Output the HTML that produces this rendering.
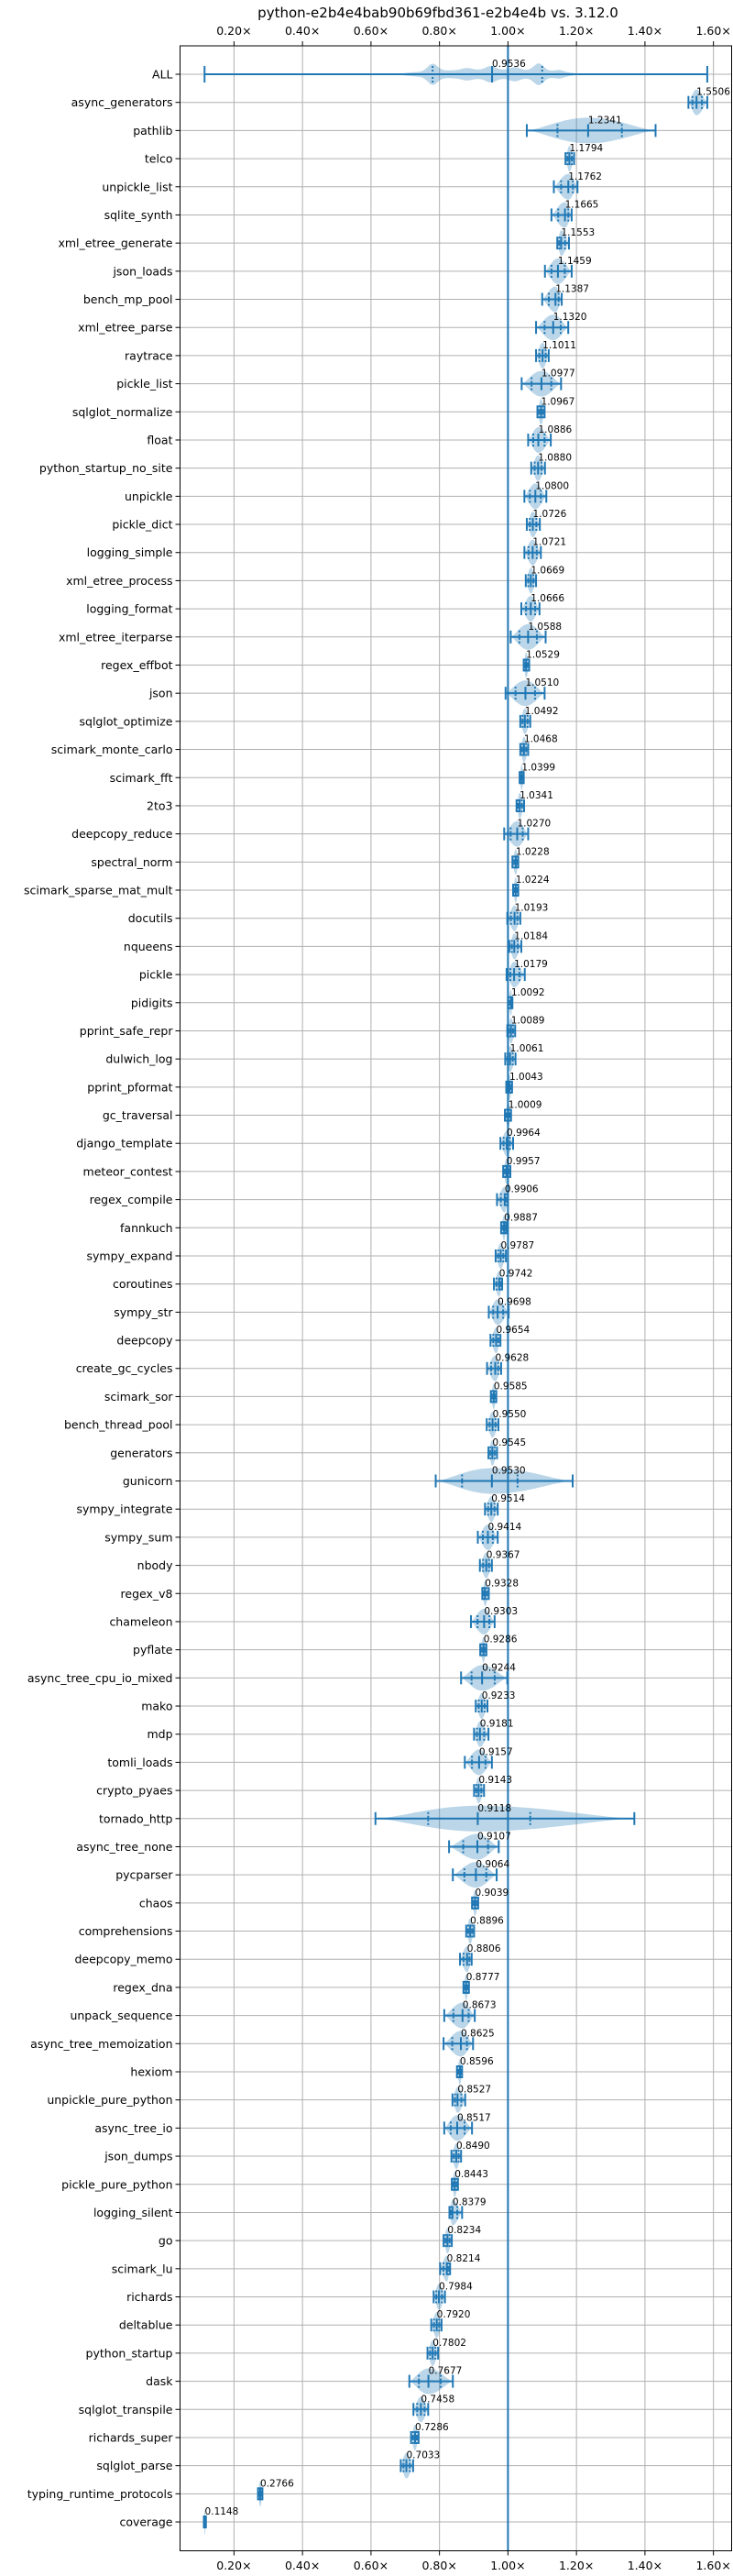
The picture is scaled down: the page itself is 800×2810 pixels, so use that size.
<!DOCTYPE html>
<html><head><meta charset="utf-8">
<style>
html,body{margin:0;padding:0;background:#fff;}
svg{display:block;font-family:"DejaVu Sans","Liberation Sans",sans-serif;}
</style></head>
<body>
<svg id="chart" width="800" height="2810" viewBox="0 0 800 2810" xmlns="http://www.w3.org/2000/svg">
<rect x="0" y="0" width="800" height="2810" fill="#fff"/>
<text x="478" y="19" font-size="15" text-anchor="middle" fill="#000">python-e2b4e4bab90b69fbd361-e2b4e4b vs. 3.12.0</text>
<g id="grid"></g>
<g id="violins"></g>
<g id="marks"></g>
<g id="labels"></g>
<g id="axes"></g>
</svg>
<script>
const benchmarks = ["ALL","async_generators","pathlib","telco","unpickle_list","sqlite_synth","xml_etree_generate","json_loads","bench_mp_pool","xml_etree_parse","raytrace","pickle_list","sqlglot_normalize","float","python_startup_no_site","unpickle","pickle_dict","logging_simple","xml_etree_process","logging_format","xml_etree_iterparse","regex_effbot","json","sqlglot_optimize","scimark_monte_carlo","scimark_fft","2to3","deepcopy_reduce","spectral_norm","scimark_sparse_mat_mult","docutils","nqueens","pickle","pidigits","pprint_safe_repr","dulwich_log","pprint_pformat","gc_traversal","django_template","meteor_contest","regex_compile","fannkuch","sympy_expand","coroutines","sympy_str","deepcopy","create_gc_cycles","scimark_sor","bench_thread_pool","generators","gunicorn","sympy_integrate","sympy_sum","nbody","regex_v8","chameleon","pyflate","async_tree_cpu_io_mixed","mako","mdp","tomli_loads","crypto_pyaes","tornado_http","async_tree_none","pycparser","chaos","comprehensions","deepcopy_memo","regex_dna","unpack_sequence","async_tree_memoization","hexiom","unpickle_pure_python","async_tree_io","json_dumps","pickle_pure_python","logging_silent","go","scimark_lu","richards","deltablue","python_startup","dask","sqlglot_transpile","richards_super","sqlglot_parse","typing_runtime_protocols","coverage"];
const medians = [0.9536,1.5506,1.2341,1.1794,1.1762,1.1665,1.1553,1.1459,1.1387,1.1320,1.1011,1.0977,1.0967,1.0886,1.0880,1.0800,1.0726,1.0721,1.0669,1.0666,1.0588,1.0529,1.0510,1.0492,1.0468,1.0399,1.0341,1.0270,1.0228,1.0224,1.0193,1.0184,1.0179,1.0092,1.0089,1.0061,1.0043,1.0009,0.9964,0.9957,0.9906,0.9887,0.9787,0.9742,0.9698,0.9654,0.9628,0.9585,0.9550,0.9545,0.9530,0.9514,0.9414,0.9367,0.9328,0.9303,0.9286,0.9244,0.9233,0.9181,0.9157,0.9143,0.9118,0.9107,0.9064,0.9039,0.8896,0.8806,0.8777,0.8673,0.8625,0.8596,0.8527,0.8517,0.8490,0.8443,0.8379,0.8234,0.8214,0.7984,0.7920,0.7802,0.7677,0.7458,0.7286,0.7033,0.2766,0.1148];
const mins = [0.114,1.527,1.055,1.168,1.134,1.127,1.144,1.108,1.100,1.082,1.082,1.040,1.086,1.059,1.068,1.048,1.055,1.048,1.052,1.039,1.008,1.046,0.993,1.036,1.036,1.034,1.025,0.989,1.013,1.015,0.998,1.004,0.996,1.000,0.998,0.992,0.995,0.991,0.978,0.986,0.968,0.980,0.964,0.959,0.944,0.949,0.939,0.950,0.938,0.943,0.789,0.933,0.912,0.918,0.925,0.892,0.919,0.863,0.906,0.901,0.874,0.901,0.613,0.828,0.839,0.895,0.878,0.860,0.870,0.814,0.812,0.851,0.838,0.814,0.835,0.836,0.829,0.812,0.802,0.783,0.776,0.765,0.712,0.724,0.717,0.687,0.270,0.112];
const maxs = [1.582,1.582,1.431,1.193,1.203,1.186,1.178,1.186,1.157,1.176,1.119,1.155,1.107,1.125,1.108,1.112,1.093,1.096,1.082,1.092,1.110,1.062,1.107,1.065,1.059,1.046,1.047,1.059,1.030,1.030,1.036,1.039,1.049,1.013,1.021,1.022,1.012,1.009,1.015,1.007,1.000,0.995,0.994,0.983,1.002,0.978,0.980,0.966,0.972,0.968,1.189,0.970,0.970,0.953,0.944,0.961,0.937,0.998,0.940,0.943,0.953,0.930,1.369,0.973,0.967,0.913,0.901,0.894,0.886,0.903,0.898,0.866,0.875,0.895,0.863,0.854,0.866,0.836,0.831,0.816,0.806,0.796,0.839,0.767,0.739,0.723,0.283,0.118];
const quartileOverrides = {0:[0.78,1.10], 50:[0.866,1.028], 62:[0.767,1.065]};
const xTicks = [0.2,0.4,0.6,0.8,1.0,1.2,1.4,1.6];
const xTickLabels = ["0.20×","0.40×","0.60×","0.80×","1.00×","1.20×","1.40×","1.60×"];
const allViolinBumps = [[0.78,8],[0.95,4],[1.09,8],[0.88,2],[1.02,3],[1.15,2]];

const NS="http://www.w3.org/2000/svg";
const L=196.5,R=798.5,T=50,B=2782.5;
function xs(v){return 554.4+(v-1)*373.75;}
function ys(i){return 81+i*30.69;}
function mk(tag,attrs,parent){const e=document.createElementNS(NS,tag);for(const k in attrs)e.setAttribute(k,attrs[k]);parent.appendChild(e);return e;}
const grid=document.getElementById('grid'),vio=document.getElementById('violins'),marks=document.getElementById('marks'),labs=document.getElementById('labels'),axes=document.getElementById('axes');
const BLUE="#1f77b4";

xTicks.forEach((t,k)=>{
  const g=mk('line',{x1:xs(t),x2:xs(t),y1:T,y2:B,stroke:"#b0b0b0","stroke-width":1},grid);
  
  
  const tt=mk('line',{x1:xs(t),x2:xs(t),y1:T-5,y2:T,stroke:"#000","stroke-width":1},axes);
  
  
  const tb=mk('line',{x1:xs(t),x2:xs(t),y1:B,y2:B+5,stroke:"#000","stroke-width":1},axes);
  
  
  const l1=mk('text',{x:xs(t),y:38,"font-size":12.5,"text-anchor":"middle",fill:"#000"},axes);l1.textContent=xTickLabels[k];
  
  
  const l2=mk('text',{x:xs(t),y:2803,"font-size":12.5,"text-anchor":"middle",fill:"#000"},axes);l2.textContent=xTickLabels[k];
  
  
});
benchmarks.forEach((b,i)=>{
  const y=ys(i);
  const g=mk('line',{x1:L,x2:R,y1:y,y2:y,stroke:"#b0b0b0","stroke-width":1},grid);
  
  
  const tk=mk('line',{x1:L-5,x2:L,y1:y,y2:y,stroke:"#000","stroke-width":1},axes);
  
  
  const tl=mk('text',{x:L-8,y:y+4.5,"font-size":12.5,"text-anchor":"end",fill:"#000"},axes);tl.textContent=b;
  
  
});

const H=14;
benchmarks.forEach((b,i)=>{
  const y=ys(i),mn=mins[i],mx=maxs[i],md=medians[i];
  let d="";
  if(i===0){
    const lo=0.66,hi=1.23,N=150;const top=[],bot=[];
    for(let k=0;k<=N;k++){const v=lo+(hi-lo)*k/N;
      const t=(v-lo)/(hi-lo);
      let base=5*Math.pow(Math.sin(Math.PI*Math.min(Math.max((v-0.68)/0.53,0),1)),0.6);
      let h=base;allViolinBumps.forEach(([c,a])=>{h+=a*Math.exp(-Math.pow((v-c)/0.02,2));});
      h=Math.min(h,13);top.push([xs(v),y-h]);bot.push([xs(v),y+h]);}
    d="M"+top.map(p=>p[0].toFixed(1)+","+p[1].toFixed(1)).join(" L")+" L"+bot.reverse().map(p=>p[0].toFixed(1)+","+p[1].toFixed(1)).join(" L")+"Z";
  } else {
    const N=40;const top=[],bot=[];
    for(let k=0;k<=N;k++){const v=mn+(mx-mn)*k/N;let u=v<md?(md-v)/Math.max(md-mn,1e-6):(v-md)/Math.max(mx-md,1e-6);u=Math.min(u,1);
      const h=H*Math.pow(1-u*u,1.6);top.push([xs(v),y-h]);bot.push([xs(v),y+h]);}
    d="M"+top.map(p=>p[0].toFixed(1)+","+p[1].toFixed(1)).join(" L")+" L"+bot.reverse().map(p=>p[0].toFixed(1)+","+p[1].toFixed(1)).join(" L")+"Z";
  }
  const p=mk('path',{d:d,fill:BLUE,"fill-opacity":0.3,stroke:"none"},vio);
  
  
});

const ref=mk('line',{x1:xs(1),x2:xs(1),y1:T,y2:B,stroke:BLUE,"stroke-width":2},marks);



benchmarks.forEach((b,i)=>{
  const y=ys(i),mn=mins[i],mx=maxs[i],md=medians[i];
  const c=i===0?9:7;
  const g=mk('g',{},marks);
  
  
  mk('line',{x1:xs(mn),x2:xs(mx),y1:y,y2:y,stroke:BLUE,"stroke-width":2},g);
  mk('line',{x1:xs(mn),x2:xs(mn),y1:y-c,y2:y+c,stroke:BLUE,"stroke-width":2},g);
  mk('line',{x1:xs(mx),x2:xs(mx),y1:y-c,y2:y+c,stroke:BLUE,"stroke-width":2},g);
  mk('line',{x1:xs(md),x2:xs(md),y1:y-c,y2:y+c,stroke:BLUE,"stroke-width":2},g);
  const q=quartileOverrides[i]||[md-(md-mn)*0.5,md+(mx-md)*0.5];
  q.forEach(v=>mk('line',{x1:xs(v),x2:xs(v),y1:y-c,y2:y+c,stroke:BLUE,"stroke-width":2,"stroke-dasharray":"2,2"},g));
  const t=mk('text',{x:xs(md),y:y-8,"font-size":10.5,fill:"#000"},labs);
  t.textContent=md.toFixed(4);
  
  
});

const fr=mk('rect',{x:L,y:T,width:R-L,height:B-T,fill:"none",stroke:"#000","stroke-width":1},axes);


</script>
</body></html>
